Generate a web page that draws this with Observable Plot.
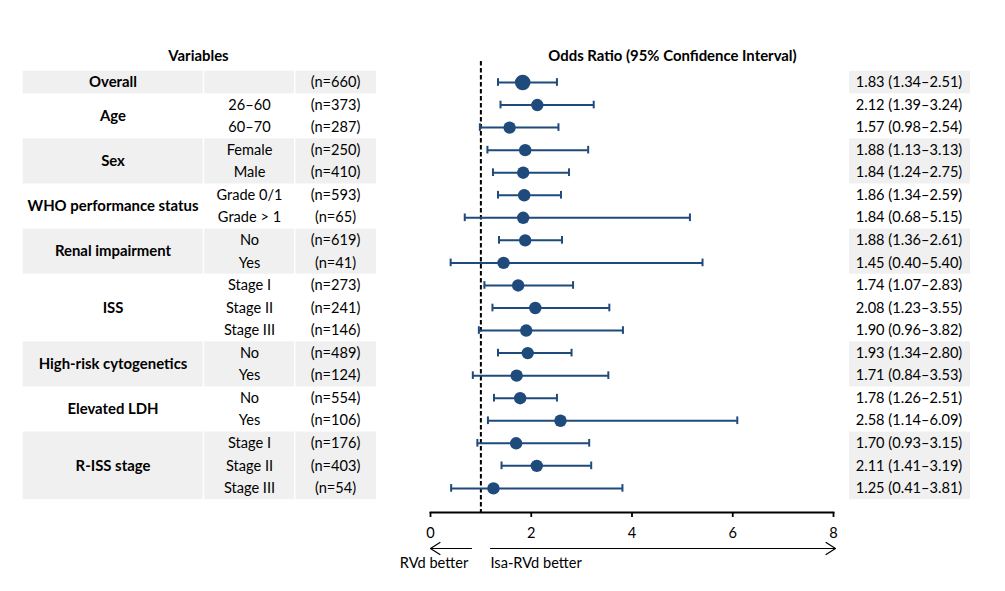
<!DOCTYPE html>
<html>
<head>
<meta charset="utf-8">
<script src="https://cdn.jsdelivr.net/npm/d3@7"></script>
<script src="https://cdn.jsdelivr.net/npm/@observablehq/plot@0.6"></script>
<style>
  html, body { margin: 0; padding: 0; background: #fff; }
  #chart svg { display: block; }
</style>
</head>
<body>
<div id="chart"></div>
<script>
// ---------- data ----------
const groupNames = ["Overall", "Age", "Sex", "WHO performance status", "Renal impairment", "ISS", "High-risk cytogenetics", "Elevated LDH", "R-ISS stage"];
const rowGroup = ["Overall", "Age", "Age", "Sex", "Sex", "WHO performance status", "WHO performance status",
  "Renal impairment", "Renal impairment", "ISS", "ISS", "ISS", "High-risk cytogenetics", "High-risk cytogenetics",
  "Elevated LDH", "Elevated LDH", "R-ISS stage", "R-ISS stage", "R-ISS stage"];
const subgroups = ["", "26–60", "60–70", "Female", "Male", "Grade 0/1", "Grade > 1", "No", "Yes",
  "Stage I", "Stage II", "Stage III", "No", "Yes", "No", "Yes", "Stage I", "Stage II", "Stage III"];
const nCounts = [660, 373, 287, 250, 410, 593, 65, 619, 41, 273, 241, 146, 489, 124, 554, 106, 176, 403, 54];
const oddsRatio = [1.83, 2.12, 1.57, 1.88, 1.84, 1.86, 1.84, 1.88, 1.45, 1.74, 2.08, 1.90, 1.93, 1.71, 1.78, 2.58, 1.70, 2.11, 1.25];
const ciLow = [1.34, 1.39, 0.98, 1.13, 1.24, 1.34, 0.68, 1.36, 0.40, 1.07, 1.23, 0.96, 1.34, 0.84, 1.26, 1.14, 0.93, 1.41, 0.41];
const ciHigh = [2.51, 3.24, 2.54, 3.13, 2.75, 2.59, 5.15, 2.61, 5.40, 2.83, 3.55, 3.82, 2.80, 3.53, 2.51, 6.09, 3.15, 3.19, 3.81];
const xTicks = [0, 2, 4, 6, 8];
const referenceLine = 1;

// ---------- layout ----------
const W = 1005, H = 591;
const X0 = 430, X8 = 833;          // pixel positions of 0 and 8 on the axis
const row0 = 82, rowStep = 22.55;  // pixel centre of first row, row spacing
const axisY = 512;
const pxPerUnit = (X8 - X0) / 8;
const vx = px => (px - X0) / pxPerUnit;    // pixel -> x units
const vy = py => (py - row0) / rowStep;    // pixel -> row units
const blue = "#1f4a7c";
const shade = "#f0f0f0";
const FONT = "Lato, 'Open Sans', sans-serif";
const FS = 14.6;
const FSB = 14.9;

const rows = oddsRatio.map((or, i) => ({
  i, or, lo: ciLow[i], hi: ciHigh[i], n: nCounts[i], sub: subgroups[i], group: rowGroup[i],
  label: `${or.toFixed(2)} (${ciLow[i].toFixed(2)}–${ciHigh[i].toFixed(2)})`
}));

const groups = groupNames.map((name, g) => {
  const idx = rows.filter(r => r.group === name).map(r => r.i);
  const first = d3.min(idx), last = d3.max(idx);
  return {name, g, first, last, mid: (first + last) / 2, shaded: g % 2 === 0};
});
const shadedGroups = groups.filter(d => d.shaded);

// left table column edges (px)
const tableCols = [[22.7, 202.7], [204.2, 294], [295.5, 376]];
const bandCells = shadedGroups.flatMap(g => tableCols.map(([a, b]) => ({g, x1: vx(a), x2: vx(b)})));

const chart = Plot.plot({
  width: W,
  height: H,
  marginLeft: X0,
  marginRight: W - X8,
  marginTop: row0 - rowStep / 2,
  marginBottom: H - axisY,
  style: {fontFamily: FONT, fontSize: FS + "px", color: "#000", background: "#fff", overflow: "visible"},
  x: {domain: [0, 8], range: [X0, X8]},
  y: {domain: [-0.5, vy(axisY)], range: [row0 - rowStep / 2, axisY], axis: null},
  r: {type: "identity"},
  marks: [
    // shaded bands
    Plot.rect(bandCells, {x1: "x1", x2: "x2", y1: d => d.g.first - 0.5, y2: d => d.g.last + 0.5, fill: shade}),
    Plot.rect(shadedGroups, {x1: vx(849), x2: vx(970), y1: d => d.first - 0.5, y2: d => d.last + 0.5, fill: shade}),
    // table text
    Plot.text(groups, {x: vx(112.5), y: "mid", text: "name", fontWeight: "bold", fontSize: FSB, fill: "#000"}),
    Plot.text(rows, {x: vx(249), y: "i", text: "sub", fontSize: FS, fill: "#000"}),
    Plot.text(rows, {x: vx(335), y: "i", text: d => `(n=${d.n})`, fontSize: FS, fill: "#000"}),
    Plot.text(rows, {x: vx(908.5), y: "i", text: "label", fontSize: FS, fill: "#000"}),
    // reference line
    Plot.ruleX([referenceLine], {y1: vy(61), y2: vy(axisY), stroke: "#000", strokeWidth: 2, strokeDasharray: "4.5,2.5"}),
    // confidence intervals
    Plot.ruleY(rows, {y: "i", x1: "lo", x2: "hi", stroke: blue, strokeWidth: 2}),
    Plot.ruleX(rows, {x: "lo", y1: d => d.i - 0.17, y2: d => d.i + 0.17, stroke: blue, strokeWidth: 2}),
    Plot.ruleX(rows, {x: "hi", y1: d => d.i - 0.17, y2: d => d.i + 0.17, stroke: blue, strokeWidth: 2}),
    Plot.dot(rows, {x: "or", y: "i", r: d => d.i === 0 ? 7.8 : 6.2, fill: blue, stroke: null}),
    // axis
    Plot.frame({anchor: "bottom", stroke: "#000", strokeWidth: 1.8}),
    Plot.axisX(xTicks, {anchor: "bottom", tickSize: 5, tickPadding: 10, fontSize: FS, stroke: "#000", strokeWidth: 1.8, fill: "#000", label: null}),
    // direction arrows
    Plot.arrow([{x1: vx(471), x2: vx(430)}], {x1: "x1", x2: "x2", y1: vy(548), y2: vy(548), stroke: "#000", strokeWidth: 1.2, headLength: 14, headAngle: 65}),
    Plot.arrow([{x1: vx(490), x2: vx(835)}], {x1: "x1", x2: "x2", y1: vy(548), y2: vy(548), stroke: "#000", strokeWidth: 1.2, headLength: 14, headAngle: 65}),
    Plot.text(["RVd better"], {x: vx(433.5), y: vy(563), text: d => d, fontSize: FS, fill: "#000"}),
    Plot.text(["Isa-RVd better"], {x: vx(490), y: vy(563), text: d => d, textAnchor: "start", fontSize: FS, fill: "#000"}),
    // titles
    Plot.text(["Variables"], {x: vx(198), y: vy(56), text: d => d, fontWeight: "bold", fontSize: FSB, fill: "#000"}),
    Plot.text(["Odds Ratio (95% Confidence Interval)"], {x: vx(672), y: vy(56), text: d => d, fontWeight: "bold", fontSize: FSB, fill: "#000"})
  ]
});
document.getElementById("chart").appendChild(chart);
</script>
</body>
</html>
